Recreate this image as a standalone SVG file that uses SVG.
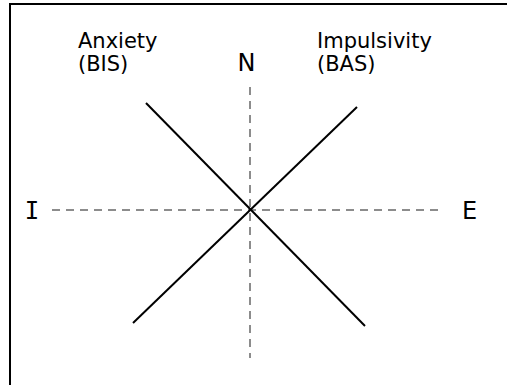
<svg xmlns="http://www.w3.org/2000/svg" width="507" height="385" viewBox="0 0 507 385">
<style>
.lbl{font-family:"DejaVu Sans","Verdana",sans-serif;font-size:21px;fill:#000}
.ax{font-family:"DejaVu Sans","Verdana",sans-serif;font-size:24px;fill:#000}
.dash{stroke:#8c8c8c;stroke-width:2;stroke-dasharray:8 6;fill:none}
.solid{stroke:#000;stroke-width:2;fill:none}
</style>
<rect x="10" y="4" width="600" height="600" fill="#fff" stroke="#000" stroke-width="2"/>
<g id="connectors">
<line class="dash" x1="250" y1="87" x2="250" y2="358"/>
<line class="dash" x1="52" y1="210" x2="440" y2="210"/>
<line class="solid" x1="146" y1="103" x2="365" y2="326"/>
<line class="solid" x1="357" y1="107" x2="133" y2="323"/>
</g>
<g id="anxiety"><text class="lbl" x="78" y="48">Anxiety</text><text class="lbl" x="78" y="71">(BIS)</text></g>
<g id="impulsivity"><text class="lbl" x="317" y="48">Impulsivity</text><text class="lbl" x="317" y="71">(BAS)</text></g>
<g id="N"><text class="ax" x="246.5" y="71" text-anchor="middle">N</text></g>
<g id="I"><text class="ax" x="32" y="219" text-anchor="middle" style="font-family:'DejaVu Sans Mono',monospace">I</text></g>
<g id="E"><text class="ax" x="462" y="219">E</text></g>
</svg>
